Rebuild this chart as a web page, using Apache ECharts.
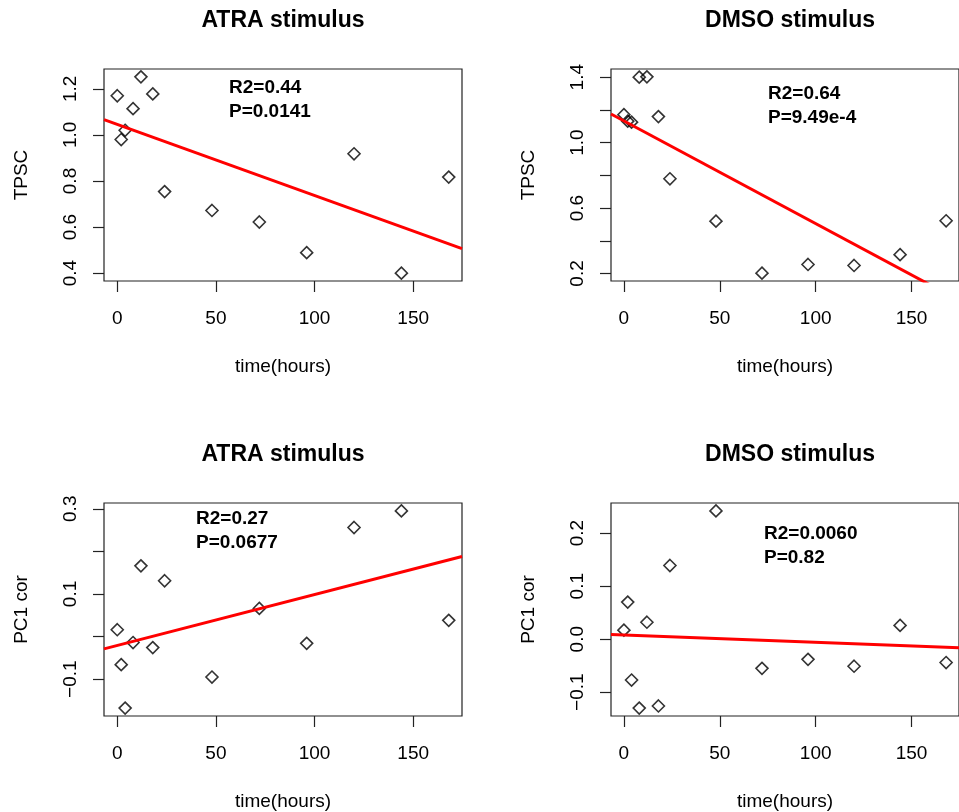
<!DOCTYPE html>
<html>
<head>
<meta charset="utf-8">
<script src="https://cdn.jsdelivr.net/npm/echarts@6/dist/echarts.min.js"></script>
<style>
html, body { margin: 0; padding: 0; background: #fff; }
#chart { width: 959px; height: 812px; }
</style>
</head>
<body>
<div id="chart"></div>
<script>
// sampling times (hours)
const times = [0, 2, 4, 8, 12, 18, 24, 48, 72, 96, 120, 144, 168];

// values
const atraTpsc = [1.170, 0.980, 1.020, 1.114, 1.252, 1.178, 0.754, 0.672, 0.622, 0.489, 0.918, 0.400, 0.817];
const dmsoTpsc = [1.171, 1.131, 1.125, 1.400, 1.402, 1.159, 0.779, 0.520, 0.202, 0.255, 0.249, 0.315, 0.522];
const atraPc1 = [0.016, -0.066, -0.168, -0.014, 0.166, -0.026, 0.131, -0.095, 0.066, -0.016, 0.256, 0.295, 0.038];
const dmsoPc1 = [0.017, 0.070, -0.077, -0.130, 0.032, -0.126, 0.139, 0.242, -0.055, -0.038, -0.051, 0.026, -0.044];

// tick marks / labels
const xTicks = [0, 50, 100, 150];
const atraTpscTicks = [0.4, 0.6, 0.8, 1.0, 1.2];
const dmsoTpscTicks = [0.2, 0.4, 0.6, 0.8, 1.0, 1.2, 1.4];
const dmsoTpscLabels = [0.2, 0.6, 1.0, 1.4];
const atraPc1Ticks = [-0.1, 0.0, 0.1, 0.2, 0.3];
const atraPc1Labels = [-0.1, 0.1, 0.3];
const dmsoPc1Ticks = [-0.1, 0.0, 0.1, 0.2];

const titles = ['ATRA stimulus', 'DMSO stimulus', 'ATRA stimulus', 'DMSO stimulus'];
const yNames = ['TPSC', 'TPSC', 'PC1 cor', 'PC1 cor'];
const statLines = [
    ['R2=0.44', 'P=0.0141'],
    ['R2=0.64', 'P=9.49e-4'],
    ['R2=0.27', 'P=0.0677'],
    ['R2=0.0060', 'P=0.82']
];

const FONT = '"Liberation Sans", Arial, Helvetica, sans-serif';

// panel boxes (pixels) and where the stats text sits
const panels = [
    { left: 104, top: 69, height: 212, ys: atraTpsc, ticks: atraTpscTicks, labels: atraTpscTicks, stat: [229, 88] },
    { left: 611, top: 69, height: 212, ys: dmsoTpsc, ticks: dmsoTpscTicks, labels: dmsoTpscLabels, stat: [768, 94] },
    { left: 104, top: 503, height: 213, ys: atraPc1, ticks: atraPc1Ticks, labels: atraPc1Labels, stat: [196, 519] },
    { left: 611, top: 503, height: 213, ys: dmsoPc1, ticks: dmsoPc1Ticks, labels: dmsoPc1Ticks, stat: [764, 534] }
]
const PANEL_W = 358

// R style axis range: data range padded by 4%
function padRange(arr) {
    const lo = Math.min(...arr), hi = Math.max(...arr)
    const d = (hi - lo) * 0.04
    return [lo - d, hi + d]
}

// least squares fit, like lm(y ~ x)
function fit(xs, ys) {
    const n = xs.length
    const mx = xs.reduce((a, b) => a + b, 0) / n
    const my = ys.reduce((a, b) => a + b, 0) / n
    let sxy = 0, sxx = 0
    for (let i = 0; i < n; i++) {
        sxy += (xs[i] - mx) * (ys[i] - my)
        sxx += (xs[i] - mx) * (xs[i] - mx)
    }
    const b = sxy / sxx
    return [my - b * mx, b]
}

const fmt = (v) => (v < 0 ? '\u2212' : '') + Math.abs(v).toFixed(1)

const xr = padRange(times)
const grid = [], xAxis = [], yAxis = [], series = [], graphic = []

panels.forEach((p, i) => {
    const yr = padRange(p.ys)
    grid.push({
        left: p.left, top: p.top, width: PANEL_W, height: p.height,
        show: true, borderColor: '#222', borderWidth: 1.2, backgroundColor: 'transparent'
    })
    xAxis.push({
        gridIndex: i, type: 'value', min: xr[0], max: xr[1],
        name: 'time(hours)', nameLocation: 'middle', nameGap: 76,
        nameTextStyle: { fontFamily: FONT, fontSize: 19, color: '#000' },
        axisLine: { show: false, onZero: false },
        splitLine: { show: false },
        axisTick: { show: true, length: 11, customValues: xTicks, lineStyle: { color: '#222', width: 1.2 } },
        axisLabel: { customValues: xTicks, margin: 28, fontFamily: FONT, fontSize: 19, color: '#000' }
    })
    yAxis.push({
        gridIndex: i, type: 'value', min: yr[0], max: yr[1],
        name: yNames[i], nameLocation: 'middle', nameGap: 73,
        nameTextStyle: { fontFamily: FONT, fontSize: 19, color: '#000' },
        axisLine: { show: false, onZero: false },
        splitLine: { show: false },
        axisTick: { show: true, length: 11, customValues: p.ticks, lineStyle: { color: '#222', width: 1.2 } },
        axisLabel: {
            customValues: p.labels, rotate: 90, margin: 24, formatter: fmt,
            fontFamily: FONT, fontSize: 19, color: '#000'
        }
    })
    series.push({
        type: 'scatter', xAxisIndex: i, yAxisIndex: i,
        data: times.map((t, k) => [t, p.ys[k]]),
        symbol: 'diamond', symbolSize: 12, silent: true, z: 2,
        itemStyle: { color: 'rgba(0,0,0,0)', borderColor: '#000', borderWidth: 1.6 }
    })
    const f = fit(times, p.ys)
    series.push({
        type: 'line', xAxisIndex: i, yAxisIndex: i,
        data: [[xr[0], f[0] + f[1] * xr[0]], [xr[1], f[0] + f[1] * xr[1]]],
        showSymbol: false, clip: true, silent: true, z: 3,
        lineStyle: { color: '#ff0000', width: 3 }
    })
    graphic.push({
        type: 'text', x: p.left + PANEL_W / 2, y: p.top - 48,
        style: { text: titles[i], font: 'bold 23px ' + FONT, fill: '#000', align: 'center', verticalAlign: 'middle' }
    })
    statLines[i].forEach((s, k) => {
        graphic.push({
            type: 'text', x: p.stat[0], y: p.stat[1] + k * 24,
            style: { text: s, font: 'bold 19px ' + FONT, fill: '#000', align: 'left', verticalAlign: 'middle' }
        })
    })
})

const myChart = echarts.init(document.getElementById('chart'))
myChart.setOption({
    animation: false,
    backgroundColor: '#fff',
    grid, xAxis, yAxis, series, graphic
})
</script>
</body>
</html>
